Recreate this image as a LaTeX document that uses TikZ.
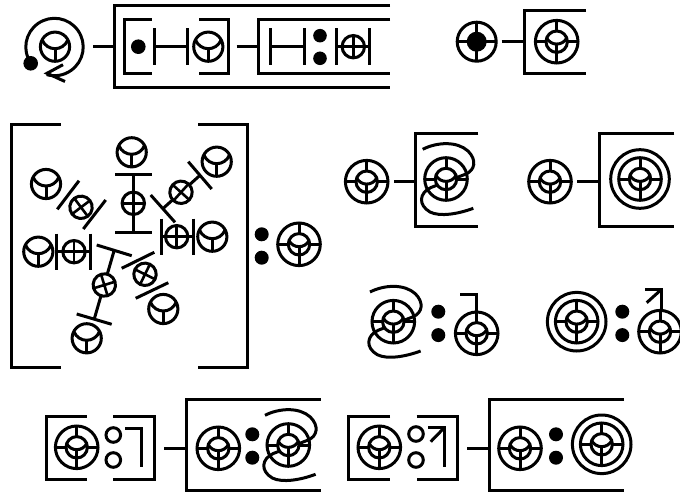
\documentclass[tikz,border=0pt]{standalone}
\tikzset{
  ln/.style={line width=3pt,black},
  ycirc/.pic={
    \draw[ln,fill=white] (0,0) circle[radius=14.6];
    \draw[ln] (-13,-7) .. controls (-8,5) and (8,5) .. (13,-7);
    \draw[ln] (0,2) -- (0,14.6);
  },
  opl/.pic={
    \draw[ln,fill=white] (0,0) circle[radius=11.2];
    \draw[line width=2.6pt] (-11.2,0) -- (11.2,0) (0,-11.2) -- (0,11.2);
  },
  tgt/.pic={
    \draw[ln,fill=white] (0,0) circle[radius=21.3];
    \draw[ln,fill=white] (0,0) circle[radius=10.7];
    \draw[ln] (-10.2,-4) .. controls (-6,4.5) and (6,4.5) .. (10.2,-4);
    \draw[ln] (0,2.2) -- (0,21.3) (0,-21.3) -- (0,-10.7) (-21.3,0) -- (-10.7,0) (10.7,0) -- (21.3,0);
  },
  twisttgt/.pic={
    \draw[ln] (-23.3,-29.7) .. controls (-9,-37) and (11,-38) .. (22,-28) .. controls (31,-19) and (29,-9) .. (20,-5) -- (-15,8.5) .. controls (-27,14) and (-28,26) .. (-16,33) .. controls (-6,38) and (12,35) .. (27.3,29.3);
    \draw[ln] (0,0) circle[radius=21.3];
    \draw[ln,fill=white] (0,0) circle[radius=10.7];
    \draw[ln] (-10.2,-4) .. controls (-6,4.5) and (6,4.5) .. (10.2,-4);
    \draw[ln] (0,2.2) -- (0,21.3) (0,-21.3) -- (0,-10.7) (-21.3,0) -- (-10.7,0) (10.7,0) -- (21.3,0);
  },
  ringtgt/.pic={
    \draw[ln] (0,0) circle[radius=29.3];
    \pic {tgt};
  },
  dotmark/.style={fill=black,draw=none},
  holemark/.style={ln,fill=white},
}
\newcommand{\twodots}[2]{%
  \fill[dotmark] (#1,#2-11.7) circle[radius=7] (#1,#2+11.7) circle[radius=7];}
\begin{document}
\begin{tikzpicture}[x=1pt,y=-1pt]
\useasboundingbox (0,0) rectangle (680,492);
\begin{scope}
\clip (0,0) rectangle (680,492);

% ---- top row, left
\draw[ln] (54.5,47) ++(145:28.7) arc[start angle=145,end angle=466,radius=28.7];
\draw[ln,line join=miter] (63,64.7) -- (47,73.3) -- (65,81.5);
\fill[dotmark] (30.7,63.3) circle[radius=7.3];
\pic at (55,46.7) {ycirc};
\draw[ln] (93,46.7) -- (114.5,46.7);
\draw[ln] (390,6) -- (114.5,6) -- (114.5,87.3) -- (390,87.3);
\draw[ln] (151.7,19.3) -- (124,19.3) -- (124,74) -- (151.7,74);
\draw[ln] (199.3,19.3) -- (228.3,19.3) -- (228.3,74) -- (199.3,74);
\fill[dotmark] (138.3,46.7) circle[radius=7.3];
\draw[ln] (154,28.3) -- (154,65) (187.3,28.3) -- (187.3,65) (154,46.7) -- (187.3,46.7);
\pic at (208.3,46.7) {ycirc};
\draw[ln] (236.7,46.7) -- (258.3,46.7);
\draw[ln] (390,19.3) -- (258.3,19.3) -- (258.3,74) -- (390,74);
\draw[ln] (270,28.3) -- (270,65) (304,28.3) -- (304,65) (270,46.7) -- (304,46.7);
\fill[dotmark] (320,35.7) circle[radius=6.8] (320,58.3) circle[radius=6.8];
\draw[ln] (336.7,28.3) -- (336.7,65) (369.3,28.3) -- (369.3,65) (336.7,46.7) -- (369.3,46.7);
\pic at (353.3,46.7) {opl};

% ---- top row, right
\draw[ln] (476.7,41.7) circle[radius=19.5];
\draw[ln] (457.2,41.7) -- (496.2,41.7) (476.7,22.2) -- (476.7,61.2);
\fill[dotmark] (476.7,41.7) circle[radius=10];
\draw[ln] (501.7,41.7) -- (524,41.7);
\draw[ln] (586,10.7) -- (524,10.7) -- (524,73.3) -- (586,73.3);
\pic at (556.7,41.7) {tgt};

% ---- big bracket
\draw[ln] (60.7,124.3) -- (11,124.3) -- (11,367.3) -- (60.7,367.3);
\draw[ln] (198.3,124.3) -- (247.3,124.3) -- (247.3,367.3) -- (198.3,367.3);

% vertical unit
\pic at (131.7,152.3) {ycirc};
\draw[ln] (115,174) -- (152,174) (115,232.3) -- (152,232.3) (133.3,174) -- (133.3,232.3);
\pic at (133.3,203.3) {opl};
% right unit
\pic at (212.3,236.7) {ycirc};
\draw[ln] (161,218.5) -- (161,255) (193.3,218.5) -- (193.3,255) (161,236.7) -- (193.3,236.7);
\pic at (176.7,236.7) {opl};
% left unit
\pic at (38.3,251.7) {ycirc};
\draw[ln] (56.7,233.5) -- (56.7,270) (90,233.5) -- (90,270) (56.7,251.7) -- (90,251.7);
\pic at (74,251.7) {opl};
% upper right
\pic at (216.7,161.7) {ycirc};
\draw[ln] (188.3,161.7) -- (211.7,189) (150.7,195) -- (175,222.3) (200,175.3) -- (162.8,208.7);
\pic[rotate=-42] at (181,192.3) {opl};
% upper left
\pic at (46,184) {ycirc};
\draw[ln] (57.3,209.3) -- (79,180.7) (83.3,229) -- (105.7,200);
\pic[rotate=37] at (81,207.3) {opl};
% lower
\pic at (86.7,338.3) {ycirc};
\draw[ln] (96.7,245) -- (131.7,255.7) (76.7,314) -- (111.7,324.3) (114.2,250.3) -- (94.2,319.2);
\pic[rotate=17] at (104.3,285) {opl};
% lower right
\pic at (163.3,309) {ycirc};
\draw[ln] (121.7,268.3) -- (154.3,252.3) (135.7,298.3) -- (168.3,282.7);
\pic[rotate=-26] at (145,274.3) {opl};

\twodots{261.7}{246}
\pic at (299,244.3) {tgt};

% ---- middle right, first line
\pic at (366.7,181.7) {tgt};
\draw[ln] (394,181.7) -- (415.7,181.7);
\draw[ln] (478.3,133.3) -- (415.7,133.3) -- (415.7,226) -- (478.3,226);
\pic at (446,179) {twisttgt};
\pic at (550,181.7) {tgt};
\draw[ln] (577.3,181.7) -- (599,181.7);
\draw[ln] (674.3,133.3) -- (599,133.3) -- (599,226) -- (674.3,226);
\pic at (640,179) {ringtgt};

% ---- middle right, second line
\pic at (393.3,321.7) {twisttgt};
\twodots{438.3}{323.4}
\draw[ln] (460,294) -- (476.7,294) -- (476.7,312);
\pic at (476.7,333.3) {tgt};
\pic at (576.7,321.7) {ringtgt};
\twodots{622.3}{323.4}
\draw[ln] (645,289.3) -- (661,289.3) -- (661,310);
\draw[ln] (661,289.8) -- (646.7,302.7);
\pic at (660,331.7) {tgt};

% ---- bottom left
\draw[ln] (86.7,416) -- (46,416) -- (46,479.3) -- (86.7,479.3);
\draw[ln] (113.3,416) -- (154.3,416) -- (154.3,479.3) -- (113.3,479.3);
\pic at (76.7,447.3) {tgt};
\draw[holemark] (113.3,435) circle[radius=7.3] (113.3,460) circle[radius=7.3];
\draw[ln] (125,428.3) -- (141.7,428.3) -- (141.7,466.7);
\draw[ln] (164,448.3) -- (186,448.3);
\draw[ln] (320.7,399.3) -- (186,399.3) -- (186,490) -- (320.7,490);
\pic at (218.3,448.3) {tgt};
\twodots{252.3}{446}
\pic at (288.3,445) {twisttgt};

% ---- bottom right
\draw[ln] (390,416) -- (348.3,416) -- (348.3,479.3) -- (390,479.3);
\draw[ln] (416.7,416) -- (457.3,416) -- (457.3,479.3) -- (416.7,479.3);
\pic at (379.3,447.3) {tgt};
\draw[holemark] (416,434) circle[radius=7.3] (416,460) circle[radius=7.3];
\draw[ln] (428.3,427.3) -- (444,427.3) -- (444,466.7);
\draw[ln] (444,428) -- (430.7,441.7);
\draw[ln] (467.3,448.3) -- (489,448.3);
\draw[ln] (624,399.3) -- (489,399.3) -- (489,490) -- (624,490);
\pic at (520,448.3) {tgt};
\twodots{556}{446}
\pic at (601.7,444.3) {ringtgt};
\end{scope}
\end{tikzpicture}
\end{document}
